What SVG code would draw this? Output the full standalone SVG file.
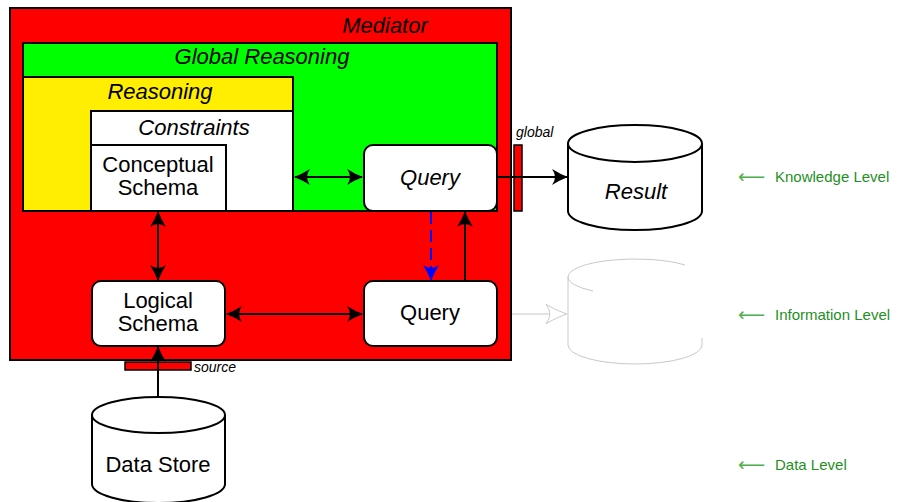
<svg xmlns="http://www.w3.org/2000/svg" width="900" height="502" viewBox="0 0 900 502">
  <style>
    text { font-family: "Liberation Sans", Arial, sans-serif; fill: #000; }
    .t { font-size: 22px; text-anchor: middle; }
    .i { font-style: italic; }
    .s { font-size: 14px; font-style: italic; }
    .box { stroke: #000; stroke-width: 2; }
    .node { fill: #fff; stroke: #000; stroke-width: 2; }
    .edge { stroke: #000; stroke-width: 2; fill: none; }
    .lvl { font-size: 15px; fill: #1f8f1f; }
    .arr { font-family: "DejaVu Sans", sans-serif; font-size: 19px; fill: #4faf4f; }
    .faint { stroke: #c8c8c8; stroke-width: 1; fill: none; }
  </style>
  <defs>
    <marker id="ah" viewBox="0 0 16 16" refX="15" refY="8" markerWidth="16" markerHeight="16" markerUnits="userSpaceOnUse" orient="auto-start-reverse">
      <path d="M16,8 Q8,5 0,0 Q6,8 0,16 Q8,11 16,8 Z" fill="#000"/>
    </marker>
    <marker id="ahb" viewBox="0 0 16 16" refX="15" refY="8" markerWidth="16" markerHeight="16" markerUnits="userSpaceOnUse" orient="auto">
      <path d="M16,8 Q8,5 0,0 Q6,8 0,16 Q8,11 16,8 Z" fill="#0000ff"/>
    </marker>
    <marker id="ahf" viewBox="0 0 16 16" refX="15" refY="8" markerWidth="22" markerHeight="22" markerUnits="userSpaceOnUse" orient="auto">
      <path d="M15.5,8 Q8,5.5 0.5,1 Q6,8 0.5,15 Q8,10.5 15.5,8 Z" fill="#fff" stroke="#c8c8c8" stroke-width="0.7"/>
    </marker>
  </defs>

  <!-- containers -->
  <g id="mediator">
    <rect class="box" x="10" y="8" width="501" height="352" fill="#ff0000"/>
    <text class="t i" x="385" y="33">Mediator</text>
  </g>
  <g id="global-reasoning">
    <rect class="box" x="23" y="43" width="474" height="168" fill="#00ff00"/>
    <text class="t i" x="262" y="64">Global Reasoning</text>
  </g>
  <g id="reasoning">
    <rect class="box" x="23" y="77" width="270" height="134" fill="#ffee00"/>
    <text class="t i" x="160" y="99">Reasoning</text>
  </g>
  <g id="constraints">
    <rect class="box" x="91" y="111" width="202" height="100" fill="#fff"/>
    <text class="t i" x="194" y="135">Constraints</text>
  </g>
  <g id="conceptual-schema">
    <rect class="box" x="91" y="145" width="135" height="66" fill="#fff"/>
    <text class="t" x="158" y="172">Conceptual</text>
    <text class="t" x="158" y="195">Schema</text>
  </g>

  <!-- nodes -->
  <g id="query-global">
    <rect class="node" x="364" y="145" width="133" height="66" rx="9"/>
    <text class="t i" x="430" y="185">Query</text>
  </g>
  <g id="logical-schema">
    <rect class="node" x="92" y="281" width="133" height="65" rx="9"/>
    <text class="t" x="158" y="308">Logical</text>
    <text class="t" x="158" y="331">Schema</text>
  </g>
  <g id="query-source">
    <rect class="node" x="364" y="281" width="133" height="65" rx="9"/>
    <text class="t" x="430" y="320">Query</text>
  </g>

  <!-- interface ports -->
  <g id="global-port">
    <rect x="514" y="145" width="8" height="66" fill="#ff0000" stroke="#000" stroke-width="1.5"/>
    <text class="s" x="516" y="137">global</text>
  </g>
  <g id="source-port">
    <rect x="125" y="362" width="66" height="8" fill="#ff0000" stroke="#000" stroke-width="1.5"/>
    <text class="s" x="194" y="372">source</text>
  </g>

  <!-- stores -->
  <g id="result">
    <path class="node" d="M568,143.5 V211 A67,19 0 0 0 702,211 V143.5"/>
    <ellipse class="node" cx="635" cy="143.5" rx="67" ry="18.5"/>
    <text class="t i" x="636" y="199">Result</text>
  </g>
  <g id="faded-store">
    <path class="faint" d="M568,277 A67,18 0 0 1 685,265"/>
    <path class="faint" d="M568,277 A67,18 0 0 0 593,291"/>
    <path class="faint" d="M568,277 V345 A67,19 0 0 0 702,345 V338"/>
  </g>
  <g id="data-store">
    <path class="node" d="M92,415 V484 A66.5,19 0 0 0 225,484 V415"/>
    <ellipse class="node" cx="158.5" cy="415" rx="66.5" ry="18"/>
    <text class="t" x="158" y="472">Data Store</text>
  </g>

  <!-- connectors -->
  <g id="connectors">
    <line class="edge" x1="295" y1="177" x2="362" y2="177" marker-start="url(#ah)" marker-end="url(#ah)"/>
    <line class="edge" x1="158" y1="212" x2="158" y2="280" marker-start="url(#ah)" marker-end="url(#ah)"/>
    <line class="edge" x1="227" y1="314" x2="362" y2="314" marker-start="url(#ah)" marker-end="url(#ah)"/>
    <line x1="431" y1="212" x2="431" y2="280" stroke="#0000ff" stroke-width="2" stroke-dasharray="12,6" marker-end="url(#ahb)"/>
    <line class="edge" x1="465" y1="281" x2="465" y2="212" marker-end="url(#ah)"/>
    <line class="edge" x1="497" y1="177" x2="567" y2="177" marker-end="url(#ah)"/>
    <line class="edge" x1="158" y1="397" x2="158" y2="347" marker-end="url(#ah)"/>
    <line class="faint" x1="512" y1="314" x2="566" y2="314" marker-end="url(#ahf)"/>
  </g>

  <!-- level annotations -->
  <g id="levels">
    <text class="arr" x="738" y="183">⟵</text>
    <text class="lvl" x="775" y="182">Knowledge Level</text>
    <text class="arr" x="738" y="321">⟵</text>
    <text class="lvl" x="775" y="320">Information Level</text>
    <text class="arr" x="738" y="471">⟵</text>
    <text class="lvl" x="775" y="470">Data Level</text>
  </g>
</svg>
